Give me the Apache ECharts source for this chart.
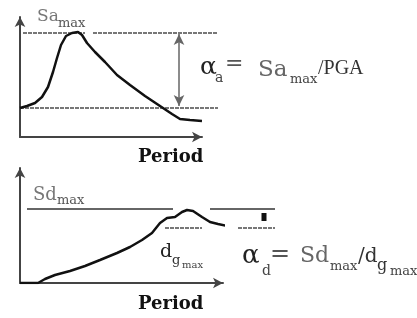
<!DOCTYPE html>
<html>
<head>
<meta charset="utf-8">
<script src="https://cdn.jsdelivr.net/npm/echarts@6/dist/echarts.min.js"></script>
<style>
  html, body { margin: 0; background: #fff; }
  #chart { width: 417px; height: 318px; }
</style>
</head>
<body>
<div id="chart"></div>
<script>
// top panel: acceleration spectrum (arbitrary units)
const saPeriod = [0, 7, 15, 22, 28, 33, 37, 41, 46, 52, 58, 62, 67, 75, 85, 97, 110, 125, 140, 152, 160, 170, 182];
const saValue = [29, 31, 34, 40, 50, 65, 79, 92, 101, 104, 105, 102, 94, 85, 75, 62, 52, 41, 31, 23, 18, 17, 16];
const saMaxLevel = 104;
const pgaLevel = 29;

// bottom panel: displacement spectrum
const sdPeriod = [0, 18, 25, 35, 50, 65, 80, 97, 110, 122, 132, 140, 147, 155, 162, 167, 173, 182, 190, 198, 207];
const sdValue = [0, 0, 4, 8, 12, 17, 23, 30, 36, 43, 50, 60, 65, 66, 71, 73, 72, 66, 61, 59, 57];
const sdMaxLevel = 74;
const dgMaxLevel = 55;

const zip = (xs, ys) => xs.map((x, i) => [x, ys[i]]);

const chart = echarts.init(document.getElementById('chart'));

const axisLine = {
    show: true,
    symbol: ['none', 'arrow'],
    symbolSize: [8, 10],
    lineStyle: {color: '#444', width: 2}
};
const bare = {axisTick: {show: false}, axisLabel: {show: false}, splitLine: {show: false}};
function ax(grid, max, visible) {
    return Object.assign({type: 'value', gridIndex: grid, min: 0, max: max,
        axisLine: visible ? axisLine : {show: false}}, bare);
}

// reference lines live on overlay grids (same scale, wider) so they can run past the arrows
function seg(grid, x0, x1, y, style) {
    return {
        type: 'line', xAxisIndex: grid, yAxisIndex: grid, silent: true,
        symbol: 'none', data: [[x0, y], [x1, y]], lineStyle: style, z: 1
    };
}
const dashed = {color: '#777', width: 2, type: [4, 1]};
const solid = {color: '#666', width: 2};

function txt(x, y, s, size, opt) {
    opt = opt || {};
    return {
        type: 'text', x: x, y: y, silent: true,
        style: {
            text: s, fill: opt.color || '#222',
            font: (opt.bold ? 'bold ' : '') + size + 'px ' + (opt.family || '"DejaVu Serif"'),
            align: 'left', verticalAlign: 'middle'
        }
    };
}

chart.setOption({
    animation: false,
    grid: [
        {left: 20, top: 17, width: 182, height: 120},
        {left: 20, top: 168, width: 203, height: 115},
        {left: 20, top: 17, width: 255, height: 120},
        {left: 20, top: 168, width: 255, height: 115}
    ],
    xAxis: [ax(0, 182, true), ax(1, 203, true), ax(2, 255, false), ax(3, 255, false)],
    yAxis: [ax(0, 120, true), ax(1, 115, true), ax(2, 120, false), ax(3, 115, false)],
    series: [
        seg(2, 3, 65, saMaxLevel, dashed),
        seg(2, 73, 198, saMaxLevel, dashed),
        seg(2, 0, 198, pgaLevel, dashed),
        {
            type: 'line', xAxisIndex: 0, yAxisIndex: 0, silent: true,
            symbol: 'none', data: zip(saPeriod, saValue), z: 3,
            lineStyle: {color: '#111', width: 2.5},
            markLine: {
                silent: true, symbol: ['arrow', 'arrow'], symbolSize: [8, 11],
                label: {show: false},
                lineStyle: {color: '#666', width: 1.5, type: 'solid'},
                itemStyle: {color: '#111'},
                data: [[{coord: [159, saMaxLevel - 1]}, {coord: [159, pgaLevel + 2]}]]
            }
        },
        seg(3, 7, 153, sdMaxLevel, solid),
        seg(3, 190, 255, sdMaxLevel, solid),
        seg(3, 145, 182, dgMaxLevel, dashed),
        seg(3, 218, 255, dgMaxLevel, dashed),
        {
            type: 'line', xAxisIndex: 3, yAxisIndex: 3, silent: true,
            symbol: 'none', data: [[244, 62], [244, 70]], z: 3,
            lineStyle: {color: '#111', width: 5}
        },
        {
            type: 'line', xAxisIndex: 1, yAxisIndex: 1, silent: true,
            symbol: 'none', data: zip(sdPeriod, sdValue), z: 3,
            lineStyle: {color: '#111', width: 2.5}
        }
    ],
    graphic: [
        txt(37, 17, 'Sa', 17, {color: '#777'}),
        txt(58, 24, 'max', 13, {color: '#555'}),
        txt(200, 67, 'α', 25, {color: '#222'}),
        txt(215, 78, 'a', 14, {color: '#444'}),
        txt(225, 64, '=', 22, {color: '#555'}),
        txt(258, 70, 'Sa', 23, {color: '#666'}),
        txt(290, 80, 'max', 13, {color: '#444'}),
        txt(318, 68.5, '/PGA', 20, {color: '#333', family: '"Liberation Serif"'}),
        txt(138, 157, 'Period', 18, {bold: true, color: '#111'}),

        txt(33, 195, 'Sd', 18, {color: '#777'}),
        txt(57, 201, 'max', 13, {color: '#555'}),
        txt(160, 252.5, 'd', 19, {color: '#222'}),
        txt(172, 261, 'g', 13, {color: '#333'}),
        txt(182, 265, 'max', 10, {color: '#444'}),
        txt(242, 256, 'α', 26, {color: '#222'}),
        txt(262, 271.5, 'd', 14, {color: '#444'}),
        txt(270, 255, '=', 24, {color: '#555'}),
        txt(300, 256.5, 'Sd', 22, {color: '#666'}),
        txt(330, 266.5, 'max', 13, {color: '#444'}),
        txt(358, 257, '/d', 20, {color: '#333'}),
        txt(377, 265.5, 'g', 16, {color: '#333'}),
        txt(390, 272, 'max', 13, {color: '#444'}),
        txt(138, 304, 'Period', 18, {bold: true, color: '#111'})
    ]
});
</script>
</body>
</html>
